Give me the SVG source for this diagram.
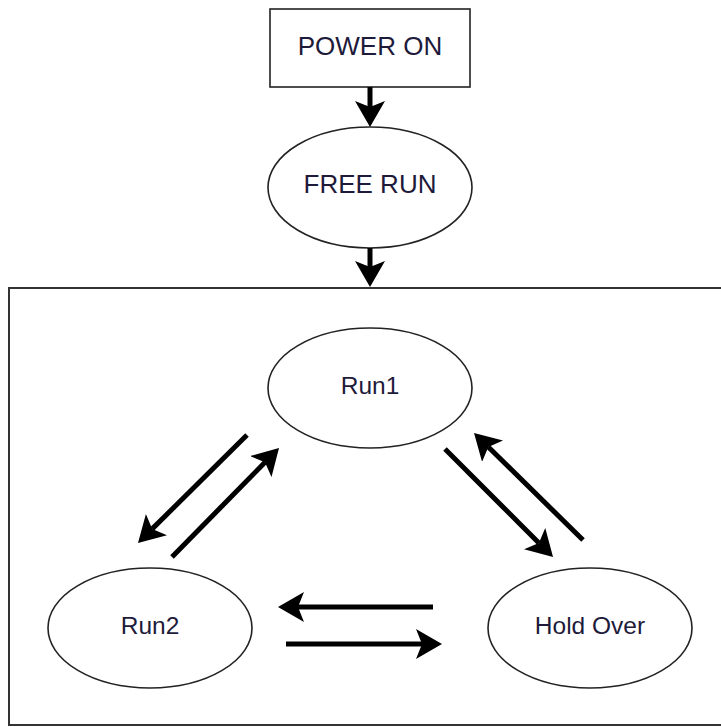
<svg xmlns="http://www.w3.org/2000/svg" width="721" height="727" viewBox="0 0 721 727">
<style>
.shape{fill:#fff;stroke:#222;stroke-width:1.6}
.frame{fill:none;stroke:#333;stroke-width:2}
.lbl{font-family:"Liberation Sans",Arial,sans-serif;fill:#1e1a3a;text-anchor:middle}
.big{font-size:26px}
.small{font-size:24.5px}
.arr{stroke:#000;stroke-width:5;fill:none;marker-end:url(#head)}
</style>
<defs>
<marker id="head" markerUnits="userSpaceOnUse" markerWidth="26" markerHeight="30" viewBox="0 0 26 30" refX="6" refY="15" orient="auto">
<path d="M0,0 L26,15 L0,30 L6,15 z" fill="#000"/>
</marker>
</defs>
<rect width="721" height="727" fill="#fff"/>
<g id="frame"><rect class="frame" x="9" y="288" width="720" height="437"/></g>
<g id="power-on">
<rect class="shape" x="270" y="9" width="200" height="78"/>
<text class="lbl big" x="370" y="55">POWER ON</text>
</g>
<g id="free-run">
<ellipse class="shape" cx="370" cy="187.5" rx="102" ry="60.5"/>
<text class="lbl big" x="370" y="193">FREE RUN</text>
</g>
<g id="run1">
<ellipse class="shape" cx="370" cy="388" rx="102" ry="60"/>
<text class="lbl small" x="370" y="394">Run1</text>
</g>
<g id="run2">
<ellipse class="shape" cx="150" cy="628" rx="102" ry="60"/>
<text class="lbl small" x="150" y="634">Run2</text>
</g>
<g id="hold-over">
<ellipse class="shape" cx="590" cy="628" rx="102" ry="60"/>
<text class="lbl small" x="590" y="634">Hold Over</text>
</g>
<g id="connectors">
<line class="arr" x1="370" y1="87" x2="370" y2="107"/>
<line class="arr" x1="370" y1="248" x2="370" y2="267"/>
<line class="arr" x1="247" y1="435" x2="152.2" y2="528.9"/>
<line class="arr" x1="172" y1="557" x2="265" y2="462.3"/>
<line class="arr" x1="445" y1="449" x2="538.9" y2="542.9"/>
<line class="arr" x1="583" y1="540" x2="488.3" y2="447"/>
<line class="arr" x1="433" y1="607" x2="298" y2="607"/>
<line class="arr" x1="286" y1="644" x2="422" y2="644"/>
</g>
</svg>
